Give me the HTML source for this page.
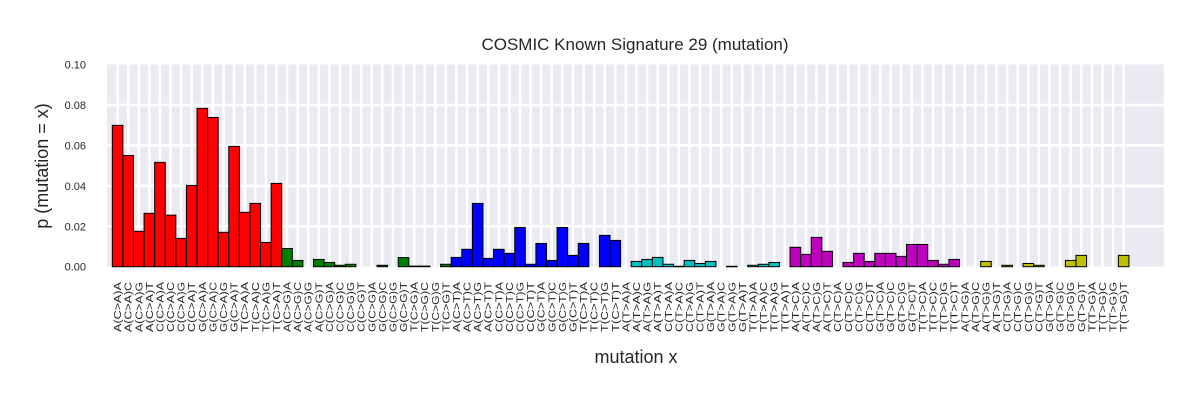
<!DOCTYPE html>
<html><head><meta charset="utf-8">
<style>
html,body{margin:0;padding:0;background:#fff;}
svg{display:block;font-family:"Liberation Sans",Arial,sans-serif;}
</style></head>
<body>
<svg id="chart" width="1200" height="400" viewBox="0 0 1200 400" xmlns="http://www.w3.org/2000/svg">
<rect x="0" y="0" width="1200" height="400" fill="#fff"/>
<text x="635" y="50" font-size="17" text-anchor="middle" fill="#262626">COSMIC Known Signature 29 (mutation)</text>
<text transform="translate(48,166) rotate(-90)" font-size="18" text-anchor="middle" fill="#262626">p (mutation = x)</text>
<text x="636" y="363" font-size="18" text-anchor="middle" fill="#262626">mutation x</text>
<rect x="107" y="64.5" width="1057" height="202" fill="#eaeaf2"/>
<g id="grid"></g>
<g id="bars"></g>
<g id="yticks"></g>
<g id="xticks"></g>
</svg>
<script>
const mutationTypes = ["C>A","C>G","C>T","T>A","T>C","T>G"];
const bases = ["A","C","G","T"];
const typeColors = ["#ff0000","#008000","#0000ff","#00bfbf","#bf00bf","#bfbf00"];
const yTicks = [0, 0.02, 0.04, 0.06, 0.08, 0.10];
const yTickLabels = ["0.00","0.02","0.04","0.06","0.08","0.10"];
const valuesCA = [0.0699,0.055,0.0175,0.0264,0.0516,0.0255,0.014,0.0402,0.0783,0.0738,0.017,0.0595,0.0269,0.0313,0.012,0.0412];
const valuesCG = [0.009,0.0031,0,0.0036,0.0021,0.0007,0.0012,0,0,0.0007,0,0.0045,0.0003,0.0003,0,0.0012];
const valuesCT = [0.0046,0.0086,0.0313,0.0041,0.0086,0.0066,0.0194,0.0012,0.0115,0.0031,0.0194,0.0056,0.0115,0,0.0155,0.013];
const valuesTA = [0,0.0026,0.0036,0.0046,0.0012,0.0002,0.0031,0.0016,0.0026,0,0.0002,0,0.0007,0.0012,0.0021,0];
const valuesTC = [0.0096,0.0061,0.0145,0.0076,0,0.0021,0.0066,0.0026,0.0066,0.0066,0.0051,0.011,0.011,0.0031,0.0012,0.0036];
const valuesTG = [0,0,0.0026,0,0.0007,0,0.0016,0.0007,0,0,0.0031,0.0056,0,0,0,0.0056];

const groups = [valuesCA,valuesCG,valuesCT,valuesTA,valuesTC,valuesTG];
const NS="http://www.w3.org/2000/svg";
const x0=112.3, pitch=10.59, yZero=266.7, yTop=64.5, yMax=0.10;
function xScale(i){return x0+i*pitch;}
function yScale(v){return yZero-(v/yMax)*(yZero-yTop);}

const grid=document.getElementById('grid');
const bars=document.getElementById('bars');
const yt=document.getElementById('yticks');
const xt=document.getElementById('xticks');

yTicks.forEach((t,k)=>{
  const y=yScale(t);
  if(k>0&&k<yTicks.length-1){
    const l=document.createElementNS(NS,'line');
    l.setAttribute('x1',107);l.setAttribute('x2',1164);l.setAttribute('y1',y);l.setAttribute('y2',y);
    l.setAttribute('stroke','#fff');l.setAttribute('stroke-width',2.5);
    
    
    grid.appendChild(l);
  }
  const tx=document.createElementNS(NS,'text');
  tx.setAttribute('x',86);tx.setAttribute('y',y+4);tx.setAttribute('font-size',11);
  tx.setAttribute('text-anchor','end');tx.setAttribute('fill','#262626');
  tx.textContent=yTickLabels[k];
  
  
  yt.appendChild(tx);
});

let idx=0;
groups.forEach((vals,g)=>{
  const m=mutationTypes[g];
  let j=0;
  bases.forEach(b5=>{bases.forEach(b3=>{
    const v=vals[j];
    const cx=xScale(idx)+pitch/2;
    const gl=document.createElementNS(NS,'line');
    gl.setAttribute('x1',cx);gl.setAttribute('x2',cx);gl.setAttribute('y1',yTop);gl.setAttribute('y2',yZero);
    gl.setAttribute('stroke','#fff');gl.setAttribute('stroke-width',2.5);
    
    
    grid.appendChild(gl);
    if(v>0){
      const r=document.createElementNS(NS,'rect');
      const y=yScale(v);
      r.setAttribute('x',xScale(idx));r.setAttribute('y',y);
      r.setAttribute('width',pitch);r.setAttribute('height',Math.max(yZero-y,0.5));
      r.setAttribute('fill',typeColors[g]);r.setAttribute('stroke','#000');r.setAttribute('stroke-width',1);
      
      
      bars.appendChild(r);
    }
    const lab=b5+"("+m+")"+b3;
    const t=document.createElementNS(NS,'text');
    t.setAttribute('transform','translate('+(cx+3.5)+',282) rotate(-90)');
    t.setAttribute('font-size',10);t.setAttribute('text-anchor','end');t.setAttribute('fill','#262626');
    t.setAttribute('textLength',50);t.setAttribute('lengthAdjust','spacingAndGlyphs');
    t.textContent=lab;
    
    
    xt.appendChild(t);
    idx++;j++;
  });});
});
</script>
</body></html>
